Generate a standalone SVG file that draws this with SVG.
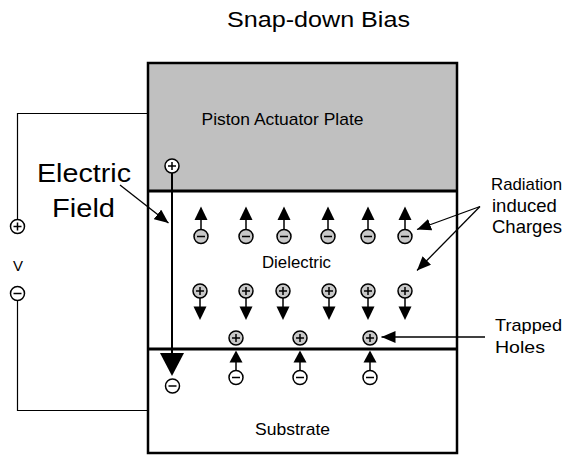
<svg xmlns="http://www.w3.org/2000/svg" width="566" height="455" viewBox="0 0 566 455">
<defs>
<style>
text{font-family:"Liberation Sans",Arial,Helvetica,sans-serif;fill:#000}
.wire{stroke:#000;stroke-width:1.2;fill:none}
.ptr{stroke:#000;stroke-width:1.3;fill:none;marker-end:url(#ah)}
.q{stroke:#000;stroke-width:1.5}
.g{fill:#c8c8c8}
.w{fill:#fff}
.sign{stroke:#000;stroke-width:1.5;fill:none}
.stem{stroke:#000;stroke-width:1.5}
</style>
<marker id="ah" markerUnits="userSpaceOnUse" markerWidth="16" markerHeight="12" refX="14" refY="6" orient="auto">
<path d="M0,0 L14,6 L0,12 Z" fill="#000"/>
</marker>
<g id="minusG"><circle r="7" class="q g"/><path d="M-4,0 H4" class="sign"/></g>
<g id="plusG"><circle r="7" class="q g"/><path d="M-4,0 H4 M0,-4 V4" class="sign"/></g>
<g id="minusW"><circle r="7" class="q w"/><path d="M-4,0 H4" class="sign"/></g>
<g id="plusW"><circle r="7" class="q w"/><path d="M-4,0 H4 M0,-4 V4" class="sign"/></g>
<g id="negUp"><path d="M0,-7 V-17" class="stem"/><path d="M-6.5,-16.5 L6.5,-16.5 L0,-30 Z" fill="#000"/><use href="#minusG"/></g>
<g id="posDown"><path d="M0,7 V17" class="stem"/><path d="M-6.5,15.5 L6.5,15.5 L0,29 Z" fill="#000"/><use href="#plusG"/></g>
<g id="negUpW"><path d="M0,-7 V-17" class="stem"/><path d="M-6.5,-15 L6.5,-15 L0,-27 Z" fill="#000"/><use href="#minusW"/></g>
</defs>

<text x="227" y="27" font-size="22" textLength="183" lengthAdjust="spacingAndGlyphs">Snap-down Bias</text>

<g id="plate">
<rect x="148" y="63" width="309" height="128" fill="#c0c0c0"/>
<text x="201.5" y="125" font-size="17" textLength="162" lengthAdjust="spacingAndGlyphs">Piston Actuator Plate</text>
</g>
<g id="dielectric">
<text x="262" y="268" font-size="17" textLength="69" lengthAdjust="spacingAndGlyphs">Dielectric</text>
</g>
<g id="substrate">
<text x="255" y="435" font-size="17" textLength="75" lengthAdjust="spacingAndGlyphs">Substrate</text>
</g>
<g id="outline" fill="none" stroke="#000">
<rect x="148" y="63" width="309" height="390" stroke-width="2.5"/>
<path d="M148,191 H457 M148,349 H457" stroke-width="3"/>
</g>

<g id="source">
<use href="#plusW" x="17.5" y="226.5"/>
<text x="18" y="270.5" font-size="15" text-anchor="middle">V</text>
<use href="#minusW" x="17.5" y="293.5"/>
</g>

<g id="connectors">
<path class="wire" d="M148,113.5 H17.5 V219.5"/>
<path class="wire" d="M17.5,300.5 V410.5 H148"/>
<path d="M172,173 V354" stroke="#000" stroke-width="2"/>
<path d="M160,353 L184,353 L172,376 Z" fill="#000"/>
<path class="ptr" d="M120,185 L168.5,223"/>
<path class="ptr" d="M480,206.5 L417,229.5"/>
<path class="ptr" d="M480,206.5 L417,270.5"/>
<path class="ptr" d="M485,337 L381.5,337"/>
</g>

<g id="field-charges">
<use href="#plusW" x="172" y="166"/>
<use href="#minusW" x="172.5" y="386"/>
</g>

<g id="neg-charges">
<use href="#negUp" x="201" y="236.5"/>
<use href="#negUp" x="246" y="236.5"/>
<use href="#negUp" x="284" y="236.5"/>
<use href="#negUp" x="328" y="236.5"/>
<use href="#negUp" x="368" y="236.5"/>
<use href="#negUp" x="405" y="236.5"/>
</g>
<g id="pos-charges">
<use href="#posDown" x="200" y="291"/>
<use href="#posDown" x="246" y="291"/>
<use href="#posDown" x="283" y="291"/>
<use href="#posDown" x="329" y="291"/>
<use href="#posDown" x="368" y="291"/>
<use href="#posDown" x="405" y="291"/>
</g>
<g id="trapped-holes">
<use href="#plusG" x="236" y="338"/>
<use href="#plusG" x="300" y="338"/>
<use href="#plusG" x="370" y="338"/>
</g>
<g id="image-charges">
<use href="#negUpW" x="236" y="377.5"/>
<use href="#negUpW" x="300" y="377.5"/>
<use href="#negUpW" x="370" y="377.5"/>
</g>

<g id="label-field">
<text x="37" y="181.5" font-size="25" textLength="94" lengthAdjust="spacingAndGlyphs">Electric</text>
<text x="52" y="217" font-size="25" textLength="63" lengthAdjust="spacingAndGlyphs">Field</text>
</g>
<g id="label-radiation" font-size="18.5">
<text x="491" y="190" font-size="17" textLength="71" lengthAdjust="spacingAndGlyphs">Radiation</text>
<text x="492" y="211.5">induced</text>
<text x="492" y="233">Charges</text>
</g>
<g id="label-trapped">
<text x="495" y="331" font-size="17" textLength="67" lengthAdjust="spacingAndGlyphs">Trapped</text>
<text x="495" y="353" font-size="17" textLength="50" lengthAdjust="spacingAndGlyphs">Holes</text>
</g>
</svg>
